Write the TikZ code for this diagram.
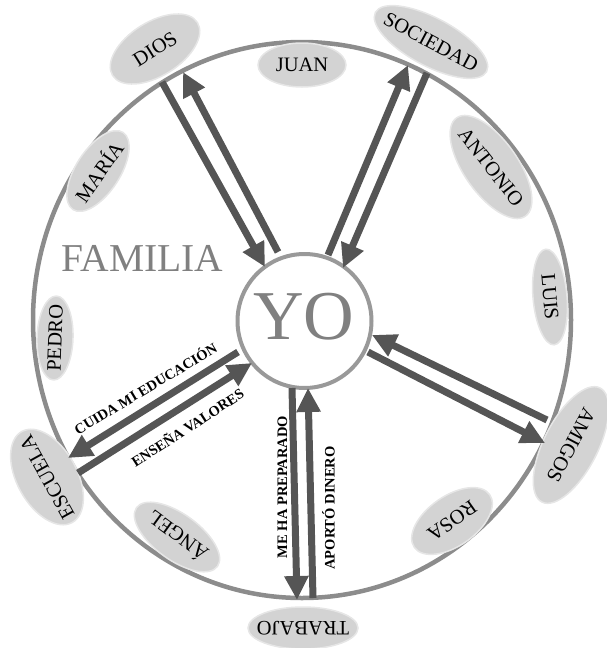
\documentclass[tikz,border=0pt]{standalone}
\usepackage{fontspec}
\setmainfont{Liberation Serif}
\usetikzlibrary{arrows.meta,shapes.geometric}
\definecolor{ringgray}{HTML}{8C8C8C}
\definecolor{yogray}{HTML}{999999}
\definecolor{txtgray}{HTML}{808080}
\definecolor{arrgray}{HTML}{555555}
\definecolor{ellfill}{HTML}{D3D3D3}
\definecolor{ellrim}{HTML}{E6E6E6}
\tikzset{
  person/.style={ellipse, fill=ellfill, draw=ellrim, line width=1.5pt, inner sep=0pt},
  pname/.style={inner sep=0pt, font=\fontsize{20.5}{20.5}\selectfont},
  flow/.style={draw=arrgray, line width=7pt, -{Triangle[length=24pt,width=23pt]}},
  flowlabel/.style={font=\bfseries\fontsize{14.5}{14.5}\selectfont, inner sep=0pt},
  bigtext/.style={text=txtgray, inner sep=0pt, anchor=base},
}
\begin{document}
\begin{tikzpicture}[x=1pt,y=-1pt]
\useasboundingbox (0,0) rectangle (606,648);
% outer ring
\draw[ringgray, line width=4.5pt] (302,320) ellipse [x radius=269pt, y radius=278pt];
% people / groups (shapes)
\node[person, minimum width=100pt, minimum height=54pt, rotate=32] (dios) at (155,49) {};
\node[person, minimum width=88pt, minimum height=44pt] (juan) at (302,65) {};
\node[person, minimum width=126pt, minimum height=48pt, rotate=-28] (sociedad) at (431,42) {};
\node[person, minimum width=120pt, minimum height=54pt, rotate=-55] (antonio) at (491,167) {};
\node[person, minimum width=96pt, minimum height=34pt, rotate=-85] (luis) at (550,297) {};
\node[person, minimum width=128pt, minimum height=54pt, rotate=-117] (amigos) at (571,445) {};
\node[person, minimum width=92pt, minimum height=50pt, rotate=-145] (rosa) at (452,521) {};
\node[person, minimum width=110pt, minimum height=42pt, rotate=180] (trabajo) at (303,628) {};
\node[person, minimum width=100pt, minimum height=46pt, rotate=144] (angel) at (177,537) {};
\node[person, minimum width=104pt, minimum height=60pt, rotate=119] (escuela) at (47,477) {};
\node[person, minimum width=84pt, minimum height=36pt, rotate=88] (pedro) at (55,338) {};
\node[person, minimum width=92pt, minimum height=44pt, rotate=57] (maria) at (98,171) {};
% people / groups (names)
\node[pname, rotate=32] (diost) at (dios) {DIOS};
\node[pname] (juant) at (juan) {JUAN};
\node[pname, rotate=-28] (sociedadt) at (sociedad) {SOCIEDAD};
\node[pname, rotate=-52] (antoniot) at (antonio) {ANTONIO};
\node[pname, rotate=-85] (luist) at (luis) {LUIS};
\node[pname, rotate=-118] (amigost) at (amigos) {AMIGOS};
\node[pname, rotate=-145] (rosat) at (rosa) {ROSA};
\node[pname, rotate=180] (trabajot) at (trabajo) {TRABAJO};
\node[pname, rotate=144] (angelt) at (angel) {ÁNGEL};
\node[pname, rotate=119] (escuelat) at (escuela) {ESCUELA};
\node[pname, rotate=88] (pedrot) at (pedro) {PEDRO};
\node[pname, rotate=55] (mariat) at (maria) {MARÍA};
% centre
\node[circle, draw=yogray, line width=4pt, minimum size=134pt, inner sep=0pt, outer sep=0pt] (yo) at (304.5,321) {};
\node[bigtext, font=\fontsize{70}{70}\selectfont] (yotext) at (304,339) {YO};
\node[bigtext, font=\fontsize{39.5}{39.5}\selectfont] (familia) at (142.5,271) {FAMILIA};
% arrow end points
\coordinate (d1s) at (162,82);  \coordinate (d1e) at (265,267);
\coordinate (d2s) at (278,252); \coordinate (d2e) at (183,72);
\coordinate (s1s) at (328,255); \coordinate (s1e) at (408,65);
\coordinate (s2s) at (427,73);  \coordinate (s2e) at (343,268);
\coordinate (a1s) at (547,420); \coordinate (a1e) at (372,335);
\coordinate (a2s) at (368,352); \coordinate (a2e) at (545,443);
\coordinate (e1s) at (238,352); \coordinate (e1e) at (68,458);
\coordinate (e2s) at (78,473);  \coordinate (e2e) at (252,363);
\coordinate (t1s) at (292,388); \coordinate (t1e) at (297,600);
\coordinate (t2s) at (313,598); \coordinate (t2e) at (308,388);
% arrows
\draw[flow] (d1s) -- (d1e);
\draw[flow] (d2s) -- (d2e);
\draw[flow] (s1s) -- (s1e);
\draw[flow] (s2s) -- (s2e);
\draw[flow] (a1s) -- (a1e);
\draw[flow] (a2s) -- (a2e);
\draw[flow] (e1s) -- (e1e);
\draw[flow] (e2s) -- (e2e);
\draw[flow] (t1s) -- (t1e);
\draw[flow] (t2s) -- (t2e);
% arrow labels
\node[flowlabel, rotate=31] (lcuida) at (145,388) {CUIDA MI EDUCACIÓN};
\node[flowlabel, rotate=33] (lvalores) at (187,427) {ENSEÑA VALORES};
\node[flowlabel, rotate=90] (lprep) at (282.5,487) {ME HA PREPARADO};
\node[flowlabel, rotate=90] (ldinero) at (328.5,508) {APORTÓ DINERO};
\end{tikzpicture}
\end{document}
